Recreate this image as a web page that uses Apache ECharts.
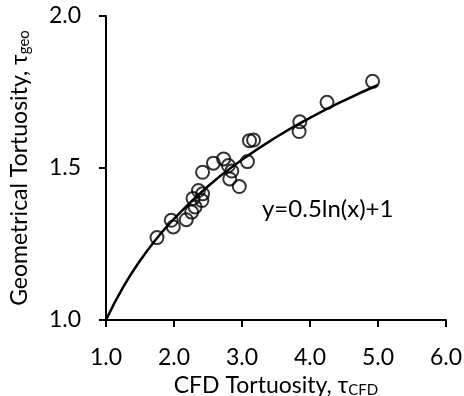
<!DOCTYPE html>
<html lang="en">
<head>
    <meta charset="UTF-8">
    <title>Tortuosity</title>
    <script src="https://cdn.jsdelivr.net/npm/echarts@6/dist/echarts.min.js"></script>
    <style>
        html, body { margin: 0; padding: 0; background: #fff; }
        #main { width: 464px; height: 396px; }
    </style>
</head>
<body>
<div id="main"></div>
<script>
    // measured points (CFD tortuosity vs geometrical tortuosity)
    var cfdTort = [1.75, 1.96, 1.99, 2.18, 2.26, 2.31, 2.28, 2.36, 2.42, 2.41, 2.42, 2.58,
        2.73, 2.80, 2.85, 2.82, 2.96, 3.08, 3.11, 3.17, 3.85, 3.84, 4.25, 4.92];
    var geoTort = [1.271, 1.328, 1.306, 1.330, 1.355, 1.372, 1.400, 1.426, 1.415, 1.393, 1.486, 1.516,
        1.530, 1.508, 1.490, 1.464, 1.439, 1.521, 1.590, 1.592, 1.652, 1.620, 1.716, 1.785];

    // fitted curve
    var fitX = [1.0, 1.25, 1.5, 1.75, 2.0, 2.5, 3.0, 3.5, 4.0, 4.5, 5.0];
    var fitY = [1.000, 1.107, 1.195, 1.269, 1.333, 1.440, 1.527, 1.601, 1.665, 1.722, 1.773];

    var xTicks = [1, 6, 1];   // min, max, interval
    var yTicks = [1, 2, 0.5];
    var fitLabel = 'y=0.5ln(x)+1';

    var font = 'Lato, "Noto Sans", sans-serif';

    var scatterData = [];
    for (var i = 0; i < cfdTort.length; i++) {
        scatterData.push([cfdTort[i], geoTort[i]]);
    }
    var fitData = [];
    for (var j = 0; j < fitX.length; j++) {
        fitData.push([fitX[j], fitY[j]]);
    }

    var myChart = echarts.init(document.getElementById('main'));

    var axisCommon = {
        axisLine: {show: true, onZero: false, lineStyle: {color: '#000', width: 2}},
        axisTick: {show: true, inside: false, length: 7, lineStyle: {color: '#000', width: 2}},
        splitLine: {show: false},
        nameLocation: 'middle',
        nameTextStyle: {
            color: '#000', fontFamily: font, fontSize: 23,
            rich: {
                sub: {fontSize: 15, fontFamily: font, color: '#000', padding: [10, 0, 0, 0]}
            }
        }
    };

    var option = {
        animation: false,
        grid: {left: 106, right: 18, top: 16, bottom: 76, containLabel: false, outerBoundsMode: 'none'},
        xAxis: echarts.util.merge({
            type: 'value',
            min: xTicks[0],
            max: xTicks[1],
            interval: xTicks[2],
            name: 'CFD Tortuosity, τ{sub|CFD}',
            nameGap: 52,
            axisLabel: {
                color: '#000', fontFamily: font, fontSize: 23, margin: 26,
                formatter: function (v) { return v.toFixed(1); }
            }
        }, axisCommon),
        yAxis: echarts.util.merge({
            type: 'value',
            min: yTicks[0],
            max: yTicks[1],
            interval: yTicks[2],
            name: 'Geometrical Tortuosity, τ{sub|geo}',
            nameGap: 74,
            axisLabel: {
                color: '#000', fontFamily: font, fontSize: 23, margin: 25,
                formatter: function (v) { return v.toFixed(1); }
            }
        }, axisCommon),
        graphic: [{
            type: 'text',
            left: 262,
            top: 197,
            style: {text: fitLabel, fill: '#000', font: '24px ' + font}
        }],
        series: [
            {
                name: 'fit',
                type: 'line',
                data: fitData,
                smooth: true,
                showSymbol: false,
                lineStyle: {color: '#000', width: 2.5},
                z: 2
            },
            {
                name: 'data',
                type: 'scatter',
                data: scatterData,
                symbol: 'circle',
                symbolSize: 13,
                itemStyle: {color: 'rgba(255,255,255,0)', borderColor: '#000', borderWidth: 2},
                z: 3
            }
        ]
    };

    myChart.setOption(option);
</script>
</body>
</html>
